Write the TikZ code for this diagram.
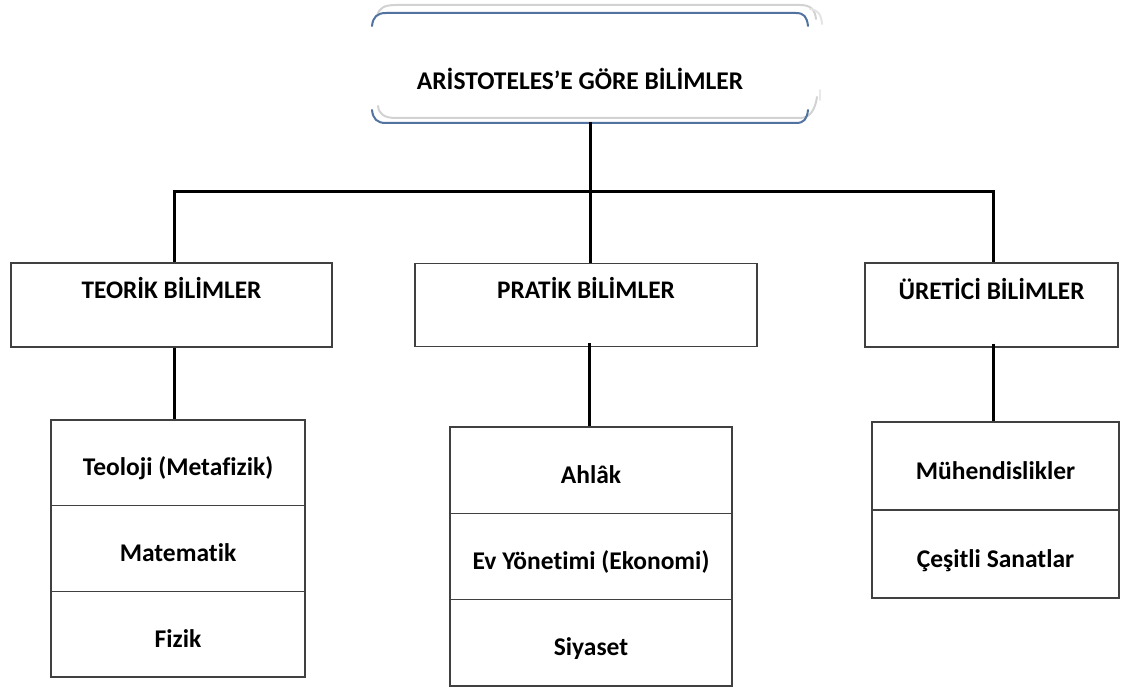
\documentclass[tikz,border=0pt]{standalone}
\usepackage{fontspec}
\setmainfont{Carlito}[Ligatures=NoCommon]
\definecolor{boxgrey}{HTML}{404040}
\definecolor{scrollblue}{HTML}{5273A0}
\definecolor{scrollgrey}{HTML}{D2D2D2}
\begin{document}
\begin{tikzpicture}[x=1pt,y=-1pt,
  catbox/.style={draw=boxgrey, line width=1.4pt, fill=white, inner sep=0pt},
  cell/.style={draw=boxgrey, line width=1.4pt, inner sep=0pt,
    text height=26pt, text depth=0pt,
    font=\bfseries\fontsize{25.5}{28}\selectfont},
  cattext/.style={inner sep=0pt, font=\bfseries\fontsize{25.3}{28}\selectfont},
  conn/.style={line width=3pt, black},
  blueedge/.style={scrollblue, line width=2pt, line cap=round},
  greyedge/.style={scrollgrey, line width=2pt, line cap=round}]
\useasboundingbox (0,0) rectangle (1126,690);

% title scroll
\node[inner sep=0pt, minimum width=436pt, minimum height=110pt] (scroll) at (590,68) {};
\draw[greyedge] (377,16) .. controls (379,8) and (384,5) .. (396,5) -- (800,5)
  .. controls (810,5) and (815,9) .. (816,19);
\draw[greyedge, scrollgrey!60] (810,9) .. controls (818,10) and (821,14) .. (822,24);
\draw[greyedge] (378,106) .. controls (379,114) and (384,118) .. (396,118) -- (800,118)
  .. controls (810,118) and (815,110) .. (817,97);
\draw[greyedge, scrollgrey!50] (820,90) -- (820,100);
\draw[blueedge] (372,26) .. controls (373,17) and (377,13) .. (386,13) -- (796,13)
  .. controls (804,13) and (807,17) .. (808,26);
\draw[blueedge] (372,110) .. controls (373,119) and (377,123) .. (386,123) -- (796,123)
  .. controls (804,123) and (807,119) .. (808,110);
\node[inner sep=0pt, font=\bfseries\fontsize{25.5}{28}\selectfont] (title) at (580,79)
  {ARİSTOTELES’E GÖRE BİLİMLER};

% category boxes
\node[catbox, minimum width=321pt, minimum height=84pt] (teo) at (171.5,305) {};
\node[cattext] (teoT) at (171.5,288) {TEORİK BİLİMLER};
\node[catbox, minimum width=342pt, minimum height=83pt] (pra) at (586,305) {};
\node[cattext] (praT) at (586,288) {PRATİK BİLİMLER};
\node[catbox, minimum width=253pt, minimum height=84pt] (ure) at (991.5,305) {};
\node[cattext] (ureT) at (991.5,289) {ÜRETİCİ BİLİMLER};

% lists of sciences
\node[cell, minimum width=254pt, minimum height=85.7pt] (teoA) at (178,462.9) {Teoloji (Metafizik)};
\node[cell, minimum width=254pt, minimum height=85.7pt] (teoB) at (178,548.6) {Matematik};
\node[cell, minimum width=254pt, minimum height=85.7pt] (teoC) at (178,634.3) {Fizik};

\node[cell, minimum width=282pt, minimum height=86.3pt] (praA) at (591,470.2) {Ahlâk};
\node[cell, minimum width=282pt, minimum height=86.3pt] (praB) at (591,556.5) {Ev Yönetimi (Ekonomi)};
\node[cell, minimum width=282pt, minimum height=86.3pt] (praC) at (591,642.8) {Siyaset};

\node[cell, minimum width=247pt, minimum height=88pt] (ureA) at (995.5,466) {Mühendislikler};
\node[cell, minimum width=247pt, minimum height=88pt] (ureB) at (995.5,554) {Çeşitli Sanatlar};

% connectors
\coordinate (hub) at (590,191);
\draw[conn] (scroll.south) ++(0,-1) -- (hub);
\draw[conn] ([xshift=2.5pt]teo.north) |- (hub) -| ([xshift=1.5pt]ure.north);
\draw[conn] (hub) -- (hub |- pra.north);
\draw[conn] ([xshift=2.5pt]teo.south) -- ([xshift=2.5pt]teo.south |- teoA.north);
\draw[conn] ([xshift=3pt]pra.south) ++(0,-4) -- ([xshift=3pt]pra.south |- praA.north);
\draw[conn] ([xshift=1.5pt]ure.south) ++(0,-4) -- ([xshift=1.5pt]ure.south |- ureA.north);
\end{tikzpicture}
\end{document}
